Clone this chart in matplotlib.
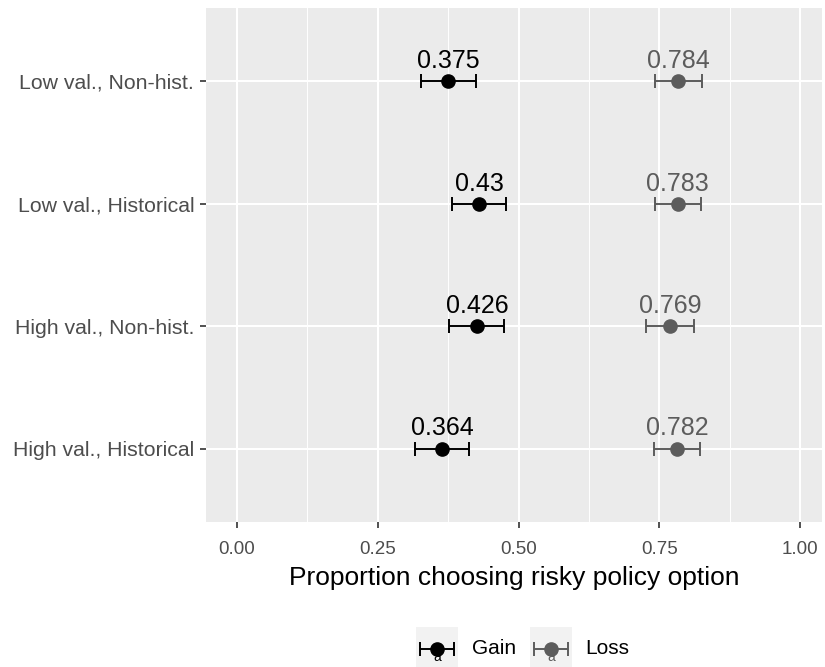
import numpy as np
import matplotlib.pyplot as plt

plt.rcParams['font.family'] = ['Liberation Sans', 'DejaVu Sans']

# Conditions, top to bottom
conditions = ['Low val., Non-hist.', 'Low val., Historical',
              'High val., Non-hist.', 'High val., Historical']
gain_mean = [0.375, 0.43, 0.426, 0.364]
gain_err = [0.049, 0.048, 0.049, 0.048]
loss_mean = [0.784, 0.783, 0.769, 0.782]
loss_err = [0.041, 0.041, 0.043, 0.041]
x_ticks = [0.0, 0.25, 0.5, 0.75, 1.0]
x_ticklabels = ['0.00', '0.25', '0.50', '0.75', '1.00']
groups = ['Gain', 'Loss']
colors = {'Gain': 'black', 'Loss': '#5c5c5c'}

W, H = 825, 667
fig = plt.figure(figsize=(W / 100, H / 100), dpi=100)
ax = fig.add_axes([206 / W, 1 - 522 / H, (822 - 206) / W, (522 - 8) / H])

ypos = np.arange(len(conditions))[::-1] + 1

ax.set_facecolor('#EBEBEB')
for s in ax.spines.values():
    s.set_visible(False)
ax.set_xlim(-0.055, 1.039)
ax.set_ylim(0.4, 4.6)
ax.set_xticks(x_ticks)
ax.set_xticklabels(x_ticklabels)
ax.set_xticks([0.125, 0.375, 0.625, 0.875], minor=True)
ax.set_yticks(ypos)
ax.set_yticklabels(conditions)
ax.grid(True, which='major', color='white', linewidth=1.5)
ax.grid(True, which='minor', axis='x', color='white', linewidth=0.7)
ax.set_axisbelow(True)
ax.tick_params(which='major', length=4.5, width=1.2, color='#333333',
               labelcolor='#4d4d4d')
ax.tick_params(axis='x', labelsize=13.5, pad=9)
ax.tick_params(axis='y', labelsize=15.3, pad=4)
ax.tick_params(which='minor', length=0)
ax.set_xlabel('Proportion choosing risky policy option', fontsize=19,
              color='black', labelpad=6)

for grp, means, errs in [('Gain', gain_mean, gain_err),
                         ('Loss', loss_mean, loss_err)]:
    c = colors[grp]
    ax.errorbar(means, ypos, xerr=errs, fmt='o', color=c, ecolor=c,
                markersize=9.5, elinewidth=1.4, capsize=4.8, capthick=1.4,
                zorder=3)
    for m, y in zip(means, ypos):
        ax.annotate(f'{m:g}', (m, y), xytext=(0, 9.5), textcoords='offset points',
                    ha='center', va='baseline', fontsize=18, color=c)

# Legend drawn in its own small axes below the panel
lax = fig.add_axes([0, 0, 1, 60 / H])
lax.set_xlim(0, W)
lax.set_ylim(0, 60)
lax.axis('off')
key_x = {'Gain': (416, 472), 'Loss': (530, 585)}
for grp in groups:
    c = colors[grp]
    kx, tx = key_x[grp]
    lax.add_patch(plt.Rectangle((kx, 0), 42, 40, color='#F2F2F2', lw=0))
    lax.errorbar([kx + 21], [18], xerr=[17], fmt='o', color=c, ecolor=c,
                 markersize=9.5, elinewidth=1.4, capsize=4.8, capthick=1.4)
    lax.text(kx + 21, 10, 'a', ha='center', va='center', fontsize=10, color=c)
    lax.text(tx, 18, grp, ha='left', va='center', fontsize=15, color='black')

fig.savefig('out.png', dpi=100)
